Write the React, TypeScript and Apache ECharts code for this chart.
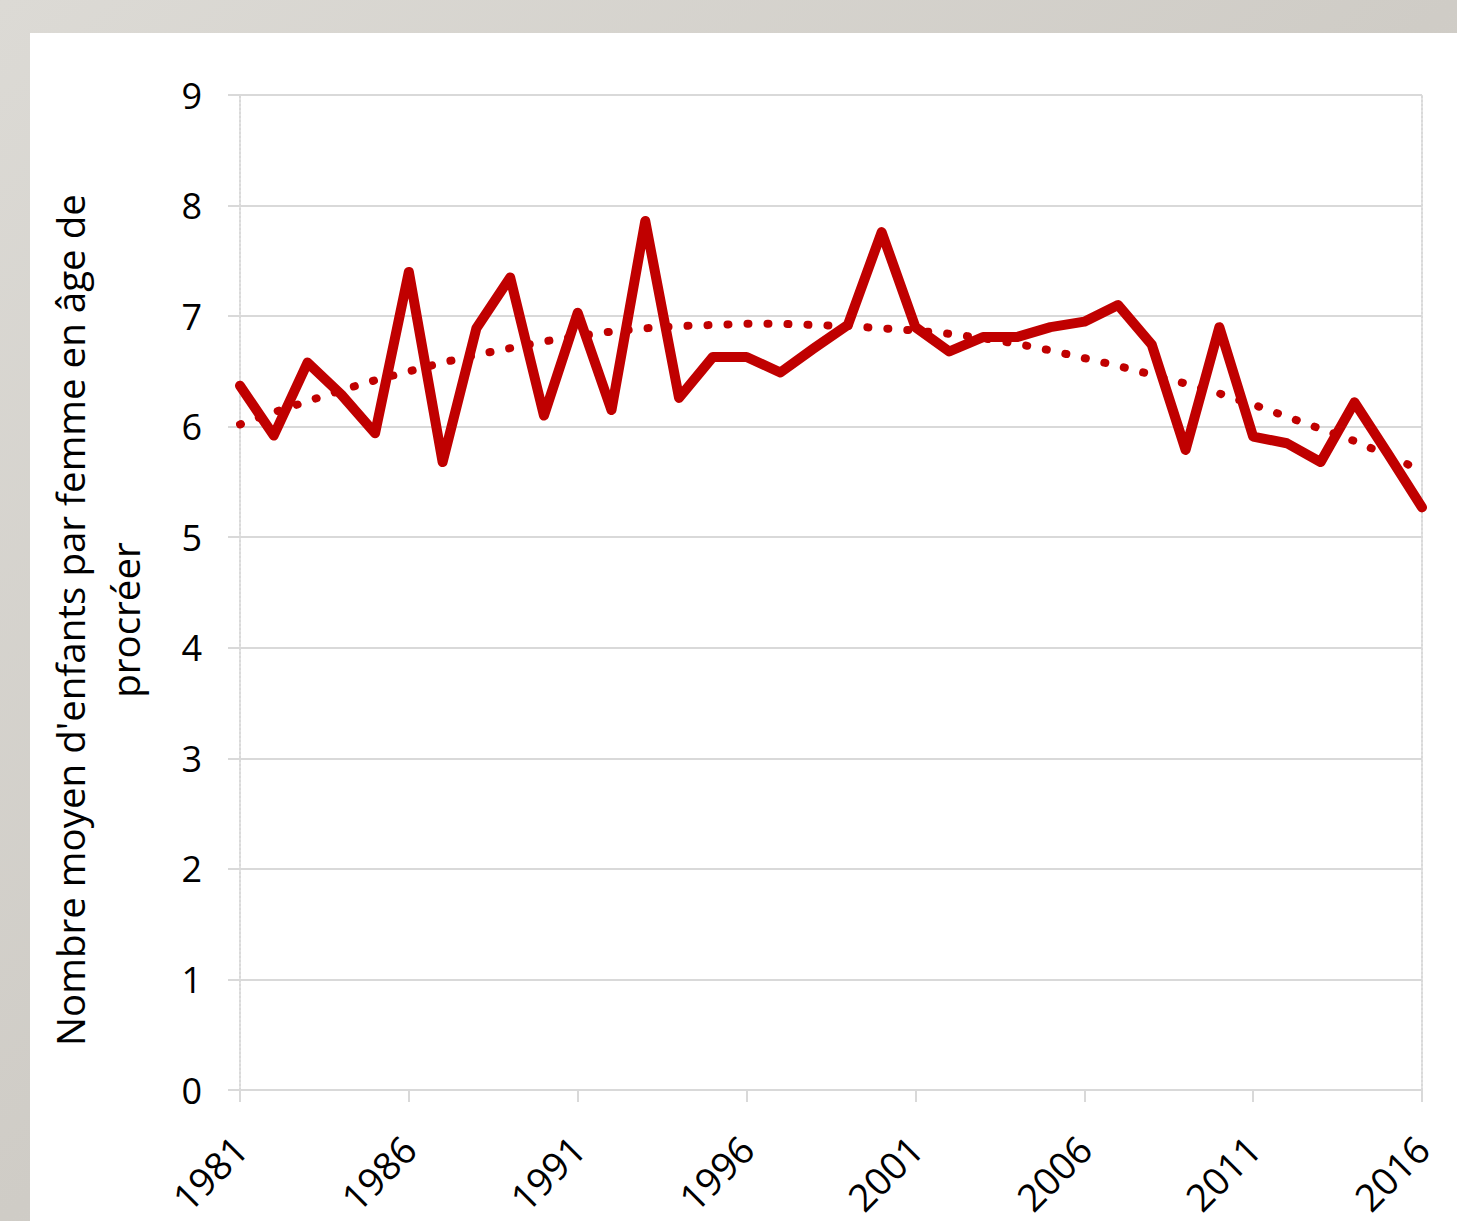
import React, { useEffect, useRef } from "react";
import * as echarts from "echarts";

const years: string[] = [
  "1981","1982","1983","1984","1985","1986","1987","1988","1989","1990",
  "1991","1992","1993","1994","1995","1996","1997","1998","1999","2000",
  "2001","2002","2003","2004","2005","2006","2007","2008","2009","2010",
  "2011","2012","2013","2014","2015","2016",
];

const fertility: number[] = [
  6.37, 5.92, 6.58, 6.29, 5.94, 7.40, 5.68, 6.89, 7.35, 6.10,
  7.03, 6.15, 7.86, 6.26, 6.63, 6.63, 6.49, 6.71, 6.92, 7.76,
  6.90, 6.68, 6.81, 6.81, 6.90, 6.95, 7.10, 6.74, 5.79, 6.90,
  5.91, 5.85, 5.68, 6.22, 5.75, 5.27,
];

const trend: number[] = [
  6.02, 6.13, 6.23, 6.33, 6.42, 6.50, 6.58, 6.65, 6.71, 6.77,
  6.82, 6.86, 6.89, 6.91, 6.92, 6.93, 6.93, 6.92, 6.91, 6.89,
  6.87, 6.84, 6.80, 6.75, 6.69, 6.62, 6.55, 6.47, 6.39, 6.30,
  6.20, 6.09, 5.98, 5.87, 5.74, 5.60,
];

const yTicks = { min: 0, max: 9, interval: 1 };
const yTitle = "Nombre moyen d'enfants par femme en âge de\nprocréer";

export default function App() {
  const ref = useRef<HTMLDivElement>(null);
  useEffect(() => {
    if (!ref.current) return;
    const chart = echarts.init(ref.current, null, { renderer: "svg" });
    const font = "'Open Sans', 'Noto Sans', sans-serif";
    const red = "#c00000";
    const gridGrey = "#d9d9d9";
    chart.setOption({
      animation: false,
      backgroundColor: {
        type: "linear",
        x: 0, y: 0, x2: 1, y2: 1,
        colorStops: [
          { offset: 0, color: "#dcdad5" },
          { offset: 0.5, color: "#cfccc6" },
          { offset: 1, color: "#d9d7d2" },
        ],
      },
      textStyle: { fontFamily: font },
      graphic: [
        {
          type: "rect",
          z: -10,
          shape: { x: 30, y: 33, width: 1427, height: 1188 },
          style: { fill: "#ffffff" },
          silent: true,
        },
        {
          type: "text",
          x: 97,
          y: 620,
          rotation: Math.PI / 2,
          style: {
            text: yTitle,
            fontFamily: font,
            fontSize: 38.5,
            fill: "#000000",
            align: "center",
            verticalAlign: "middle",
            lineHeight: 55,
          },
        },
      ],
      grid: { left: 240, right: 35, top: 95, bottom: 131, containLabel: false },
      xAxis: [
        {
          type: "category",
          data: years,
          boundaryGap: false,
          axisLine: { show: true, lineStyle: { color: gridGrey, width: 2, type: "dotted" } },
          axisTick: { show: true, interval: 4, length: 12, lineStyle: { color: gridGrey, width: 2 } },
          axisLabel: {
            interval: 4,
            rotate: 45,
            margin: 52,
            fontSize: 38,
            color: "#000000",
            fontFamily: font,
          },
          splitLine: { show: false },
        },
        {
          type: "category",
          data: years,
          boundaryGap: false,
          position: "top",
          axisLine: { show: true, lineStyle: { color: gridGrey, width: 2, type: "dotted" } },
          axisTick: { show: false },
          axisLabel: { show: false },
          splitLine: { show: false },
        },
      ],
      yAxis: [
        {
          type: "value",
          min: yTicks.min,
          max: yTicks.max,
          interval: yTicks.interval,
          axisLine: { show: true, lineStyle: { color: gridGrey, width: 2, type: "dotted" } },
          axisTick: { show: true, length: 12, lineStyle: { color: gridGrey, width: 2 } },
          axisLabel: { margin: 38, fontSize: 36, color: "#000000", fontFamily: font },
          splitLine: { show: true, lineStyle: { color: gridGrey, width: 2 } },
        },
        {
          type: "value",
          min: yTicks.min,
          max: yTicks.max,
          interval: yTicks.interval,
          position: "right",
          axisLine: { show: true, lineStyle: { color: gridGrey, width: 2, type: "dotted" } },
          axisTick: { show: false },
          axisLabel: { show: false },
          splitLine: { show: false },
        },
      ],
      series: [
        {
          type: "line",
          name: "Tendance",
          data: trend,
          showSymbol: false,
          symbol: "none",
          lineStyle: { color: red, width: 8, type: [1, 19], cap: "round" },
          z: 2,
        },
        {
          type: "line",
          name: "Fécondité",
          data: fertility,
          showSymbol: false,
          symbol: "none",
          lineStyle: { color: red, width: 10, join: "round", cap: "round" },
          z: 3,
        },
      ],
    });
    return () => chart.dispose();
  }, []);
  return (
    <div
      ref={ref}
      style={{ position: "absolute", left: 0, top: 0, width: 1457, height: 1221 }}
    />
  );
}
